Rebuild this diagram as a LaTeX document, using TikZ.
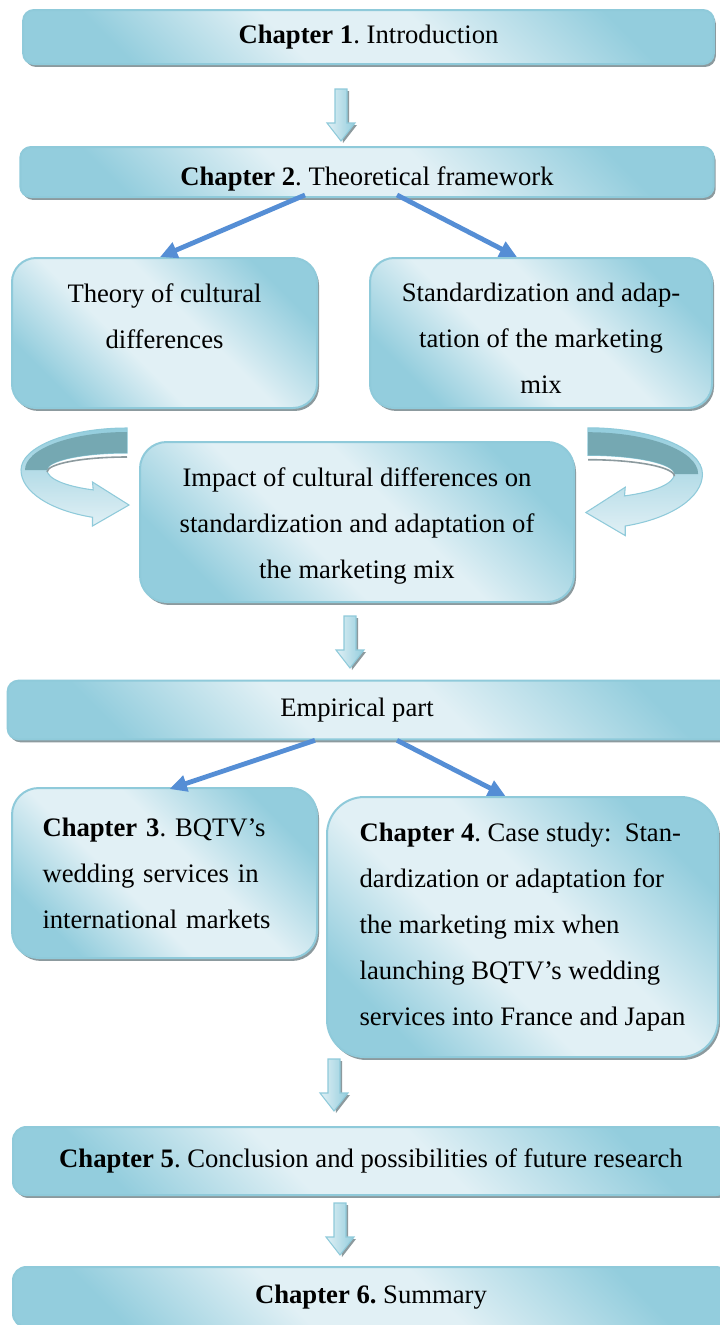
\documentclass[tikz,border=0pt]{standalone}
\usepackage{fontspec}
\setmainfont{Liberation Serif}
\usetikzlibrary{
  positioning,
  arrows.meta,
  calc,
  shadows
}
\definecolor{aqua}{HTML}{93CDDD}
\definecolor{aqualight}{HTML}{E1F0F5}
\definecolor{aquaedge}{HTML}{8FCADA}
\definecolor{ribbondark}{HTML}{75A8B2}
\definecolor{linkblue}{HTML}{558ED5}
\definecolor{shadowgray}{HTML}{8C9A9E}

\pgfdeclareverticalshading{glossy}{100bp}{color(0bp)=(aqua); color(25bp)=(aqua);
  color(42bp)=(aqualight); color(56bp)=(aqualight); color(75bp)=(aqua); color(100bp)=(aqua)}

\tikzset{
  downarr/.pic={
    \fill[shadowgray] (-4,2) -- (8,2) -- (8,36) -- (16,36) -- (2,54) -- cycle;
    \shadedraw[draw=aquaedge, line width=0.8pt, left color=aqualight, right color=aqua]
      (-6,0) -- (6,0) -- (6,34) -- (14,34) -- (0,52) -- (-14,34) -- (-6,34) -- cycle;
  },
  ribbon/.pic={
    \shadedraw[draw=aquaedge, line width=0.8pt, top color=aqua, bottom color=aqualight]
      (0,-42) arc[start angle=270, end angle=180, x radius=106, y radius=42]
      arc[start angle=180, end angle=109, x radius=106, y radius=50]
      -- (-34.5,56) -- (2,35) -- (-34.5,12) -- (-33.8,19.9)
      arc[start angle=115, end angle=180, x radius=80, y radius=22]
      arc[start angle=180, end angle=270, x radius=80, y radius=17] -- cycle;
    \fill[ribbondark] (0,-38) arc[start angle=270, end angle=180, x radius=102, y radius=38]
      -- (-80,0) arc[start angle=180, end angle=270, x radius=80, y radius=17] -- cycle;
    \draw[shadowgray, line width=1.2pt] (-80,2) arc[start angle=180, end angle=270, x radius=80, y radius=15];
  }
}

\begin{document}
\begin{tikzpicture}[
  x=0.75pt, y=-0.75pt,
  panel/.style={draw=aquaedge, line width=1.5pt, rounded corners=#1,
                shading=glossy, shading angle=-45,
                drop shadow={shadow xshift=1.5pt, shadow yshift=-2.2pt, fill=shadowgray, opacity=1},
                inner sep=0pt, align=center, font=\fontsize{20}{34.5}\selectfont\frenchspacing},
  panel/.default=8pt,
  branch/.style={-{Triangle[length=13pt, width=12pt]}, line width=3.6pt, linkblue},
]
  \clip (0,0) rectangle (720,1325);

  % Theoretical part
  \node[panel, minimum width=518pt, minimum height=40.5pt] (ch1) at (368.5,37)
    {\textbf{Chapter 1}. Introduction};
  \node[panel, minimum width=520pt, minimum height=37.5pt, text height=25pt] (ch2) at (367,172)
    {\textbf{Chapter 2}. Theoretical framework};
  \node[panel=18pt, minimum width=228.75pt, minimum height=112.5pt, text depth=25pt] (cult) at (164.5,333)
    {Theory of cultural\\differences};
  \node[panel=18pt, minimum width=256.5pt, minimum height=112.5pt, text height=90pt] (stdz) at (541,333)
    {Standardization and adap-\\tation of the marketing\\mix};
  \node[panel=20pt, minimum width=325.5pt, minimum height=120pt, text height=89pt] (impact) at (357,522)
    {Impact of cultural differences on\\standardization and adaptation of\\the marketing mix};

  % Empirical part
  \node[panel, minimum width=560pt, minimum height=44pt] (emp) at (381,710)
    {\hspace*{-36pt}Empirical part};
  \node[panel=20pt, minimum width=228.75pt, minimum height=127.5pt, text width=183pt, align=left] (ch3) at (164.5,873)
    {\textbf{Chapter 3}. BQTV’s\\wedding services in\\international markets};
  \node[panel=28pt, minimum width=293.25pt, minimum height=195pt, align=left] (ch4) at (522.5,927)
    {\textbf{Chapter 4}. Case study:\ \ Stan-\\dardization or adaptation for\\the marketing mix when\\launching BQTV’s wedding\\services into France and Japan};
  \node[panel=10pt, minimum width=537pt, minimum height=51pt] (ch5) at (371,1161)
    {\textbf{Chapter 5}. Conclusion and possibilities of future research};
  \node[panel=10pt, minimum width=537pt, minimum height=45pt] (ch6) at (371,1297)
    {\textbf{Chapter 6.} Summary};

  % block arrows between the stages
  \pic at ($(ch1.south)+(-27.5,24)$) {downarr};
  \pic at ($(impact.south)+(-7,13)$) {downarr};
  \pic at ($(ch4.south west)+(8,1)$) {downarr};
  \pic at ($(ch5.south)+(-31,7)$) {downarr};

  % branches
  \draw[branch] ($(ch2.south)+(-62,-3)$) -- ($(cult.north)+(-4.5,0)$);
  \draw[branch] ($(ch2.south)+(30,-3)$) -- ($(stdz.north)+(-24,0)$);
  \draw[branch] ($(emp.south)+(-66,0)$) -- ($(ch3.north)+(5,2)$);
  \draw[branch] ($(emp.south)+(16,0)$) -- ($(ch4.north)+(-17,0)$);

  % curved arrows into the impact box
  \pic at ($(impact.west)+(-12,-52)$) {ribbon};
  \pic[xscale=-1.08, yscale=1.1] at ($(impact.east)+(13,-48)$) {ribbon};

\end{tikzpicture}
\end{document}
